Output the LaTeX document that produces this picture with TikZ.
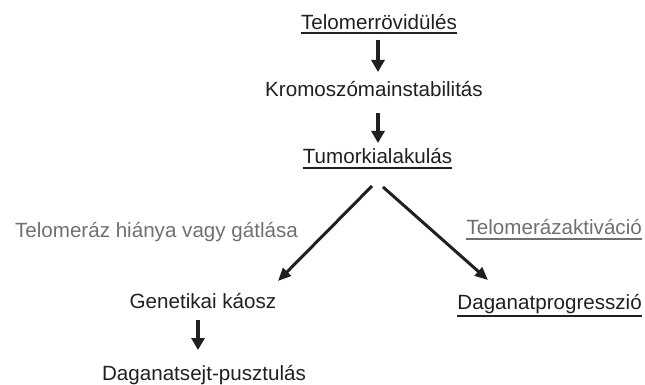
\documentclass[tikz,border=0pt]{standalone}
\usepackage{fontspec}
\setmainfont{Liberation Sans}
\usetikzlibrary{arrows.meta}
\definecolor{ink}{HTML}{231F20}
\definecolor{greyink}{HTML}{707070}
\begin{document}
\begin{tikzpicture}[x=1pt,y=-1pt,
  lbl/.style={anchor=base,inner sep=0pt,text height=15pt,text depth=4.5pt,font=\fontsize{20.6}{24}\selectfont,text=ink},
  glbl/.style={lbl,text=greyink},
  varr/.style={draw=ink,line width=4pt,-{Triangle[length=12pt,width=13pt]}},
  darr/.style={draw=ink,line width=3pt,-{Triangle[length=13pt,width=11pt]}},
  uline/.style={draw=ink,line width=2pt},
  guline/.style={draw=greyink,line width=2pt}]
\useasboundingbox (0,0) rectangle (645,385);
\node[lbl] (t1) at (379,30) {Telomerrövidülés};
\node[lbl] (k) at (374,97) {Kromoszómainstabilitás};
\node[lbl] (tum) at (377.5,164) {Tumorkialakulás};
\node[glbl] (hi) at (156.5,237) {Telomeráz hiánya vagy gátlása};
\node[glbl,anchor=base east] (ta) at (642,234) {Telomerázaktiváció};
\node[lbl] (gen) at (203,308) {Genetikai káosz};
\node[lbl,anchor=base east] (dp) at (642,309) {Daganatprogresszió};
\node[lbl] (ds) at (204,380) {Daganatsejt-pusztulás};
% underlines
\draw[uline] ([yshift=-3pt]t1.base west) -- ([yshift=-3pt]t1.base east);
\draw[uline] ([yshift=-4pt]tum.base west) -- ([yshift=-4pt]tum.base east);
\draw[guline] ([yshift=-4.5pt]ta.base west) -- ([yshift=-4.5pt]ta.base east);
\draw[uline] ([yshift=-7pt]dp.base west) -- ([yshift=-7pt]dp.base east);
% arrows
\draw[varr] ([xshift=-1pt,yshift=-10pt]t1.base) -- ([xshift=4pt,yshift=25pt]k.base);
\draw[varr] ([xshift=4pt,yshift=-16pt]k.base) -- ([xshift=0.5pt,yshift=21pt]tum.base);
\draw[varr] ([xshift=-5pt,yshift=-12pt]gen.base) -- ([xshift=-6pt,yshift=30pt]ds.base);
\draw[darr] ([xshift=-5.5pt,yshift=-22pt]tum.base) -- ([xshift=75pt,yshift=27pt]gen.base);
\draw[darr] ([xshift=5.5pt,yshift=-23pt]tum.base) -- ([xshift=-154pt,yshift=29pt]dp.base east);
\end{tikzpicture}
\end{document}
